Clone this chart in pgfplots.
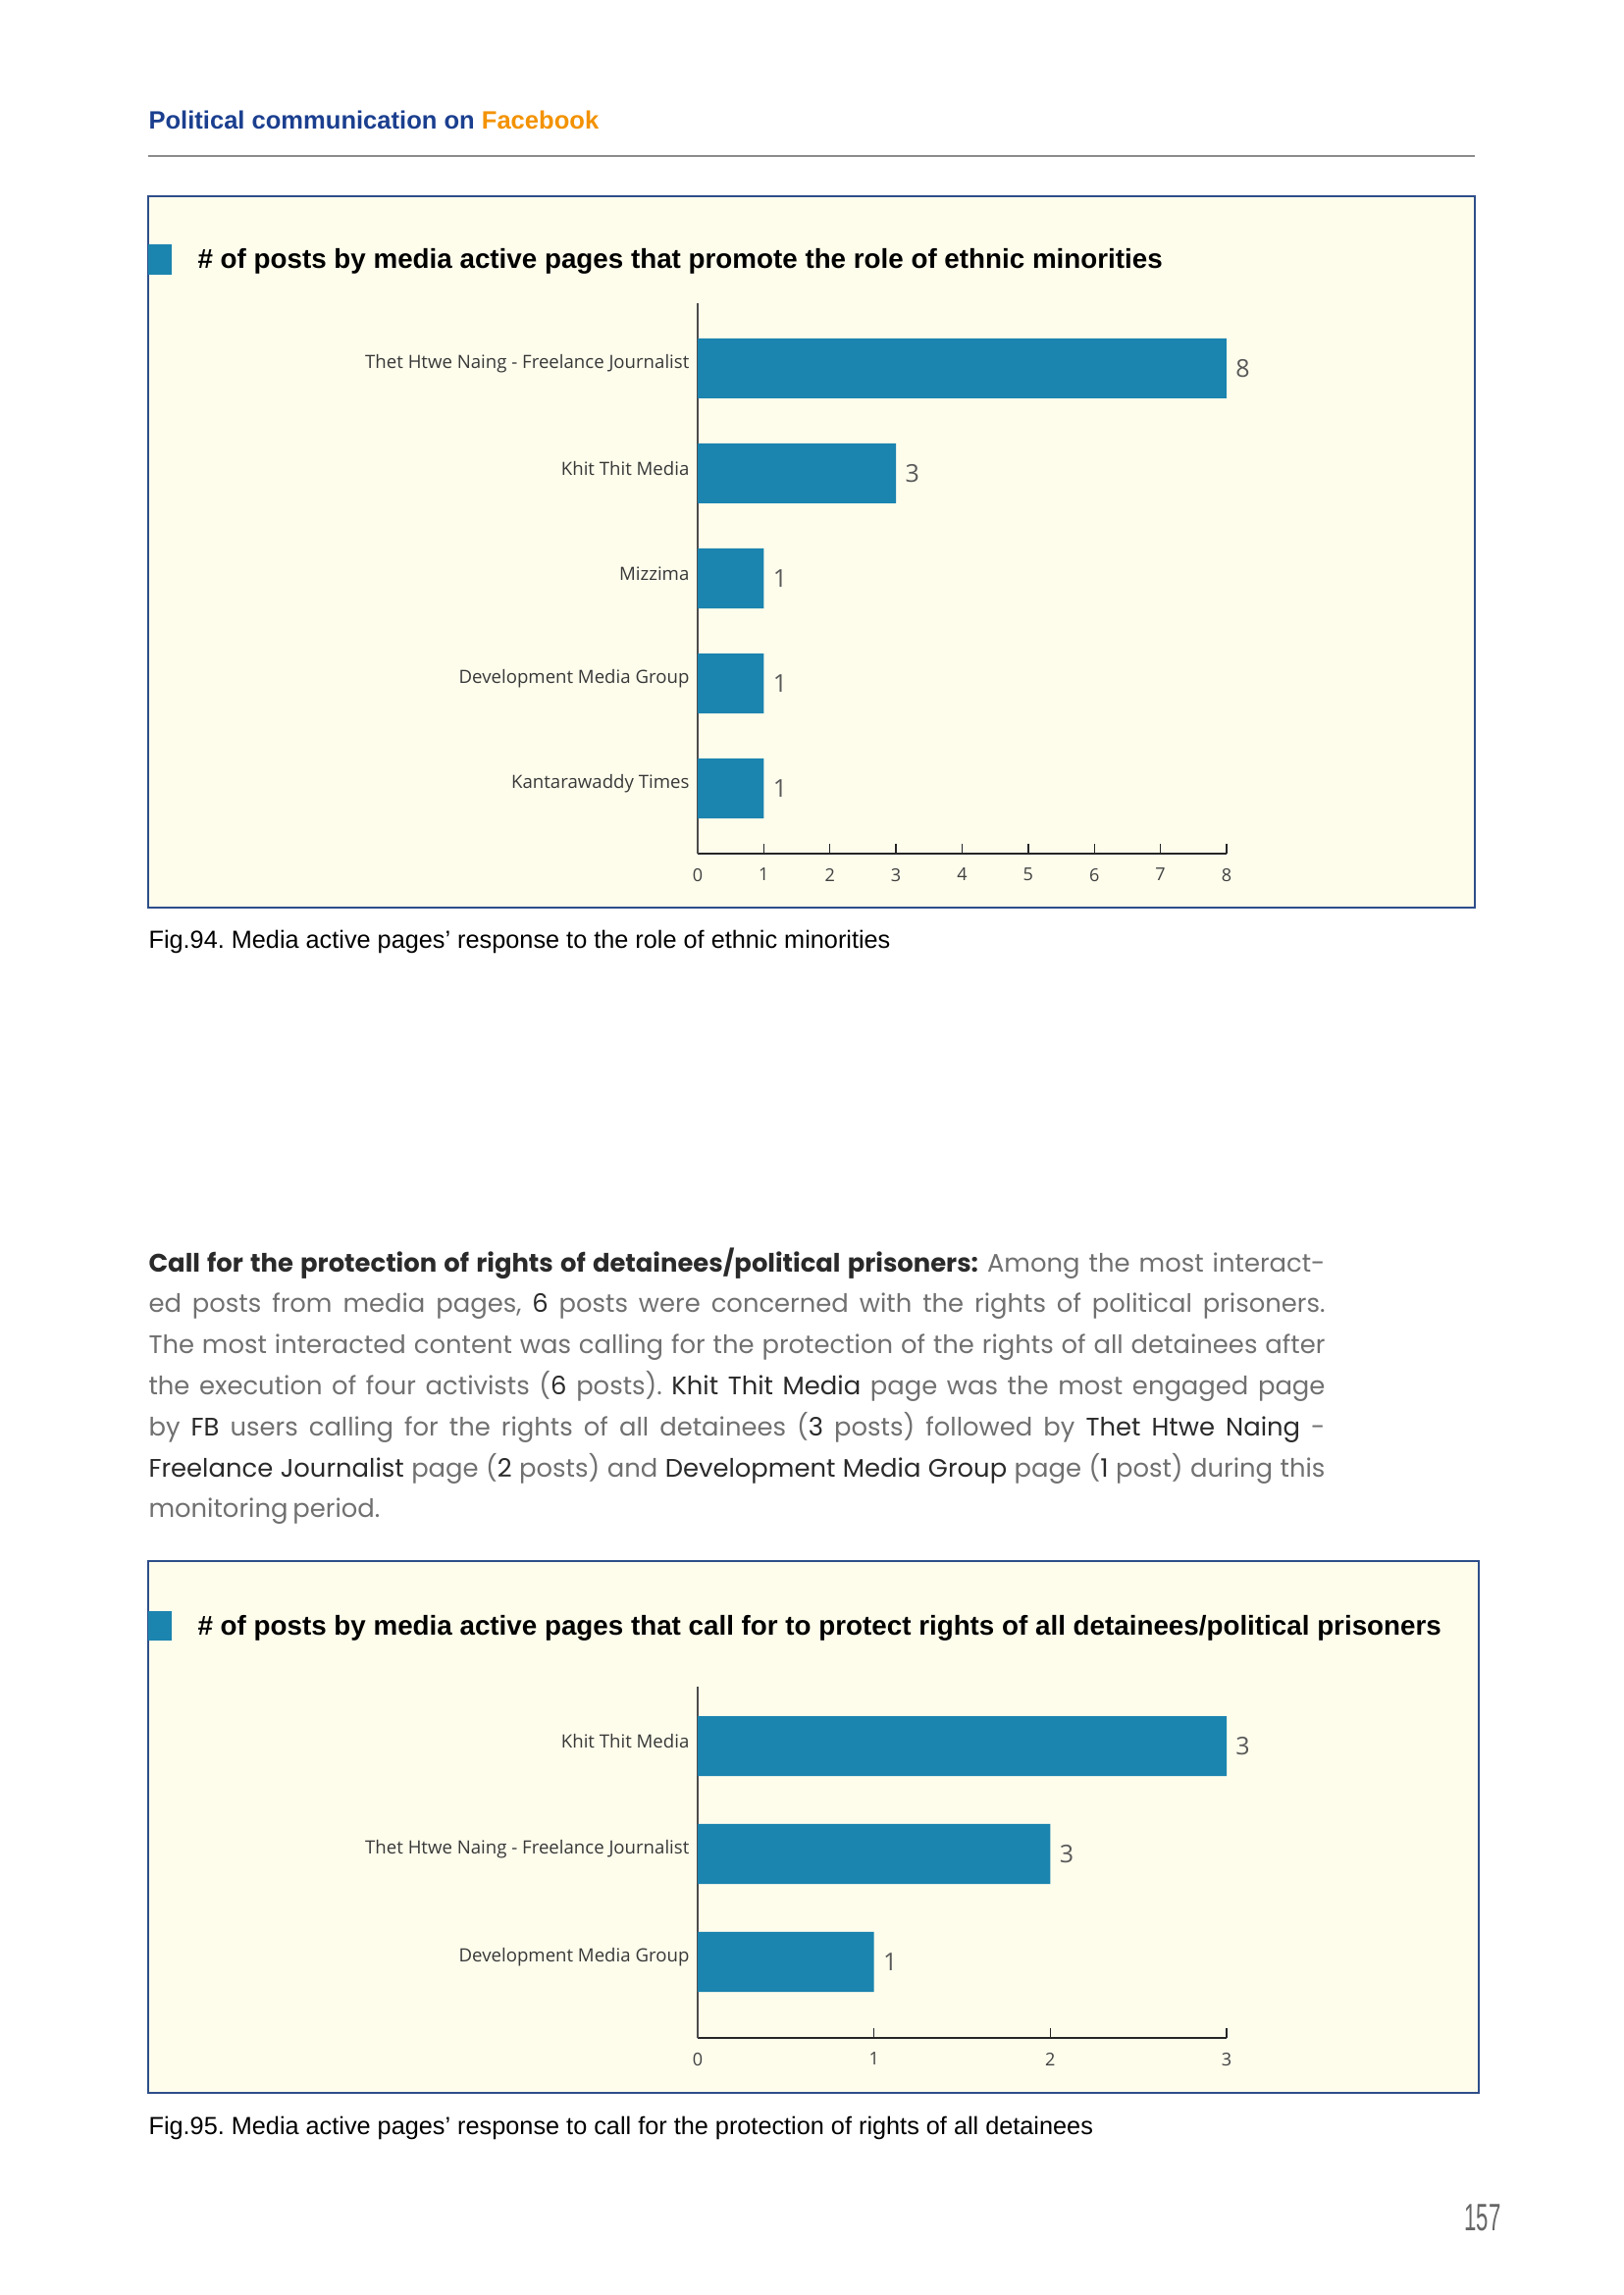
\documentclass[border=0pt]{standalone}
\usepackage{fontspec}
\setmainfont{Liberation Sans}
\newfontfamily\osans{Open Sans}
\newfontfamily\pop[WordSpace={0.72,1,1.2}]{Poppins}
\usepackage{graphicx}
\usepackage{pgfplots}
\pgfplotsset{compat=1.18}
\usepackage{pgfplotstable}
\definecolor{barblue}{HTML}{1B84AF}
\definecolor{boxfill}{HTML}{FEFDEC}
\definecolor{boxline}{HTML}{2E4E8A}
\definecolor{hdrblue}{HTML}{1B3F8F}
\definecolor{hdrorange}{HTML}{F39200}
\definecolor{bodygray}{HTML}{707070}
\definecolor{bodydark}{HTML}{2A2A2A}
\frenchspacing

\pgfplotstableread{
idx val lab
0 8 8
1 3 3
2 1 1
3 1 1
4 1 1
}\tabA
\pgfplotstableread{
idx val lab
0 3 3
1 2 3
2 1 1
}\tabB

\pgfplotsset{mybar/.style={
  scale only axis, xbar, bar width=22pt, y dir=reverse,
  axis x line=bottom, axis y line=left,
  x axis line style={-, black!85, line width=0.6pt},
  y axis line style={-, black!70, line width=0.5pt},
  xmin=0, tick align=inside, major tick length=3.6pt,
  xtick style={black!85, line width=0.5pt},
  ytick style={draw=none},
  ytick=data,
  yticklabel style={font=\osans\fontsize{6.7}{8}\selectfont, text=black!78, inner sep=0pt, xshift=-2.9pt, yshift=1.8pt},
  xticklabel style={font=\osans\fontsize{6.5}{7}\selectfont, text=black!75, inner sep=0pt, yshift=-5.2pt},
  /pgf/number format/assume math mode=true,
  nodes near coords, point meta=explicit symbolic,
  every node near coord/.append style={font=\osans\fontsize{9}{10}\selectfont, text=black!65, anchor=west, inner sep=0pt, xshift=3.2pt},
}}

\newcommand\dk[1]{\textcolor{bodydark}{#1}}

\begin{document}
\begin{tikzpicture}
\useasboundingbox (0,0) rectangle (595.44pt,-842.04pt);
\fill[white] (0,0) rectangle (595.44pt,-842.04pt);

% header
\node[anchor=base west, inner sep=0] at (54.36pt,-47.2pt) {\fontsize{9.2}{11}\selectfont\bfseries\textcolor{hdrblue}{Political communication on} \textcolor{hdrorange}{Facebook}};
\draw[black!45, line width=0.6pt] (54.36pt,-57.24pt) -- (541.08pt,-57.24pt);

% box 1
\filldraw[fill=boxfill, draw=boxline, line width=0.6pt] (54.36pt,-72pt) rectangle (541.08pt,-333pt);
\fill[barblue] (54.36pt,-89.64pt) rectangle (63pt,-100.8pt);
\node[anchor=base west, inner sep=0] at (72.36pt,-98.4pt) {\fontsize{10}{12}\selectfont\bfseries \# of posts by media active pages that promote the role of ethnic minorities};

\begin{axis}[mybar, at={(255.96pt,-313.2pt)}, anchor=south west,
  width=194.04pt, height=201.96pt,
  xmax=8, xtick={0,1,...,8}, ymin=-0.62, ymax=4.62,
  yticklabels={Thet Htwe Naing - Freelance Journalist, Khit Thit Media, Mizzima, Development Media Group, Kantarawaddy Times}]
\addplot[fill=barblue, draw=none] table[x=val, y=idx, meta=lab] {\tabA};
\end{axis}

\node[anchor=base west, inner sep=0] at (54.36pt,-348pt) {\fontsize{9.1}{11}\selectfont Fig.94. Media active pages’ response to the role of ethnic minorities};

% paragraph
\begin{scope}[every node/.style={anchor=base west, inner sep=0, font=\pop\fontsize{9.3}{15}\selectfont, text=bodygray}]
\node at (54.36pt,-466.6pt) {\makebox[431.6pt][s]{\textcolor{bodydark}{\bfseries Call for the protection of rights of detainees/political prisoners:} Among the most interact-}};
\node at (54.36pt,-481.64pt) {\makebox[431.6pt][s]{ed posts from media pages, \dk{6} posts were concerned with the rights of political prisoners.}};
\node at (54.36pt,-496.68pt) {\makebox[431.6pt][s]{The most interacted content was calling for the protection of the rights of all detainees after}};
\node at (54.36pt,-511.72pt) {\makebox[431.6pt][s]{the execution of four activists (\dk{6} posts). \dk{Khit Thit Media} page was the most engaged page}};
\node at (54.36pt,-526.76pt) {\makebox[431.6pt][s]{by \dk{FB} users calling for the rights of all detainees (\dk{3} posts) followed by \dk{Thet Htwe Naing} -}};
\node at (54.36pt,-541.8pt) {\makebox[431.6pt][s]{\dk{Freelance Journalist} page (\dk{2} posts) and \dk{Development Media Group} page (\dk{1} post) during this}};
\node at (54.36pt,-556.84pt) {monitoring period.};
\end{scope}

% box 2
\filldraw[fill=boxfill, draw=boxline, line width=0.6pt] (54.36pt,-572.76pt) rectangle (542.52pt,-767.88pt);
\fill[barblue] (54.36pt,-591.1pt) rectangle (63pt,-601.9pt);
\node[anchor=base west, inner sep=0] at (72.36pt,-599.8pt) {\fontsize{10}{12}\selectfont\bfseries \# of posts by media active pages that call for to protect rights of all detainees/political prisoners};

\begin{axis}[mybar, at={(255.96pt,-747.72pt)}, anchor=south west,
  width=194.04pt, height=129.06pt,
  xmax=3, xtick={0,1,2,3}, ymin=-0.555, ymax=2.705,
  yticklabels={Khit Thit Media, Thet Htwe Naing - Freelance Journalist, Development Media Group}]
\addplot[fill=barblue, draw=none] table[x=val, y=idx, meta=lab] {\tabB};
\end{axis}

\node[anchor=base west, inner sep=0] at (54.36pt,-783.2pt) {\fontsize{9.1}{11}\selectfont Fig.95. Media active pages’ response to call for the protection of rights of all detainees};

% page number
\node[anchor=base east, inner sep=0, text=black!60] at (550.8pt,-818.3pt) {\scalebox{0.57}[1]{\fontsize{14}{16}\selectfont 157}};
\end{tikzpicture}
\end{document}
